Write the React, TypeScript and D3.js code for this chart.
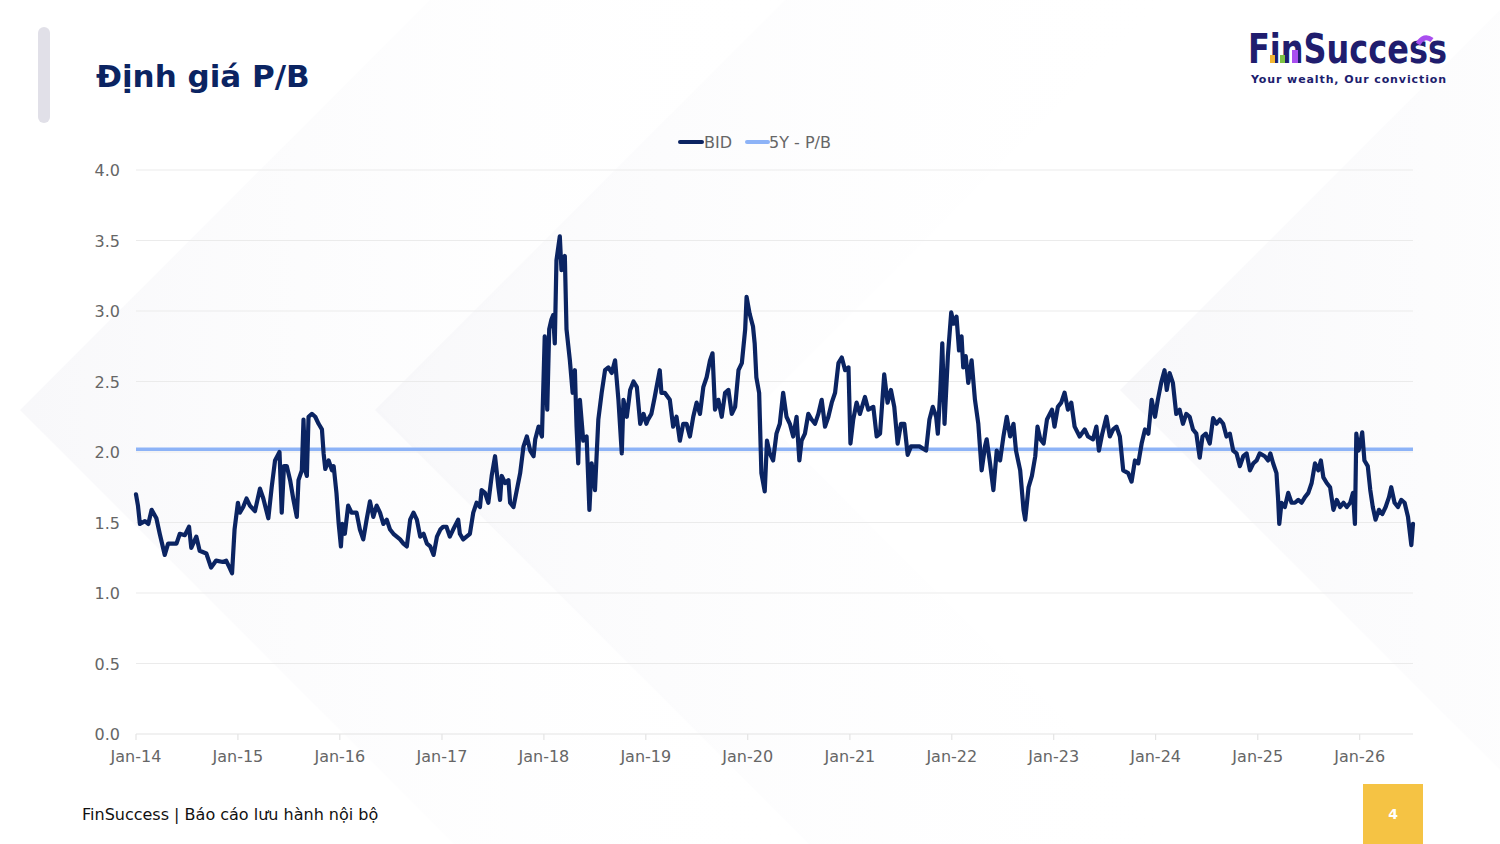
import * as d3 from "d3"

// BID P/B (date, value)
const bid2014: [string, number][] = [["2014-01-01",1.70],["2014-01-08",1.62],["2014-01-15",1.49],["2014-02-02",1.51],["2014-02-14",1.49],["2014-02-26",1.59],["2014-03-15",1.53],["2014-03-27",1.42],["2014-04-14",1.27],["2014-04-26",1.35],["2014-05-26",1.35],["2014-06-07",1.42],["2014-06-25",1.41],["2014-07-10",1.47],["2014-07-18",1.32],["2014-08-05",1.40],["2014-08-17",1.30],["2014-09-10",1.28],["2014-09-27",1.18],["2014-10-15",1.23],["2014-11-08",1.22],["2014-11-20",1.23],["2014-12-02",1.18],["2014-12-11",1.14],["2014-12-20",1.45]]
const bid2015: [string, number][] = [["2015-01-01",1.64],["2015-01-08",1.57],["2015-01-20",1.61],["2015-02-01",1.67],["2015-02-13",1.62],["2015-03-03",1.58],["2015-03-21",1.74],["2015-04-02",1.67],["2015-04-20",1.53],["2015-05-02",1.75],["2015-05-14",1.94],["2015-05-30",2.00],["2015-06-07",1.57],["2015-06-15",1.90],["2015-06-25",1.90],["2015-07-07",1.80],["2015-07-19",1.66],["2015-07-31",1.54],["2015-08-06",1.80],["2015-08-18",1.87],["2015-08-24",2.23],["2015-08-30",1.87],["2015-09-05",1.83],["2015-09-11",2.25],["2015-09-23",2.27],["2015-10-05",2.25],["2015-10-17",2.20],["2015-10-29",2.16],["2015-11-04",1.99],["2015-11-10",1.88],["2015-11-22",1.94],["2015-12-04",1.87],["2015-12-10",1.90],["2015-12-20",1.71],["2015-12-28",1.49]]
const bid2016: [string, number][] = [["2016-01-05",1.33],["2016-01-10",1.49],["2016-01-19",1.42],["2016-01-31",1.62],["2016-02-12",1.57],["2016-03-01",1.57],["2016-03-13",1.45],["2016-03-25",1.38],["2016-04-06",1.52],["2016-04-18",1.65],["2016-04-30",1.54],["2016-05-12",1.62],["2016-05-24",1.57],["2016-06-05",1.49],["2016-06-17",1.52],["2016-06-29",1.45],["2016-07-11",1.42],["2016-07-23",1.40],["2016-08-04",1.38],["2016-08-16",1.35],["2016-08-28",1.33],["2016-09-09",1.52],["2016-09-21",1.57],["2016-10-03",1.52],["2016-10-15",1.40],["2016-10-27",1.42],["2016-11-08",1.35],["2016-11-20",1.33],["2016-12-02",1.27],["2016-12-14",1.40],["2016-12-26",1.45]]
const bid2017: [string, number][] = [["2017-01-05",1.47],["2017-01-17",1.47],["2017-01-29",1.40],["2017-02-10",1.45],["2017-02-28",1.52],["2017-03-06",1.42],["2017-03-18",1.38],["2017-03-30",1.40],["2017-04-11",1.42],["2017-04-23",1.57],["2017-05-05",1.64],["2017-05-17",1.61],["2017-05-23",1.73],["2017-06-04",1.71],["2017-06-16",1.64],["2017-06-28",1.83],["2017-07-10",1.97],["2017-07-22",1.75],["2017-07-28",1.66],["2017-08-03",1.83],["2017-08-15",1.78],["2017-08-27",1.80],["2017-09-02",1.64],["2017-09-14",1.61],["2017-09-26",1.73],["2017-10-08",1.85],["2017-10-20",2.04],["2017-11-01",2.11],["2017-11-13",2.01],["2017-11-25",1.97],["2017-12-01",2.09],["2017-12-13",2.18],["2017-12-25",2.11]]
const bid2018: [string, number][] = [["2018-01-04",2.82],["2018-01-13",2.30],["2018-01-20",2.87],["2018-01-28",2.94],["2018-02-03",2.97],["2018-02-09",2.77],["2018-02-15",3.36],["2018-02-27",3.53],["2018-03-05",3.29],["2018-03-17",3.39],["2018-03-23",2.87],["2018-04-04",2.65],["2018-04-14",2.42],["2018-04-22",2.58],["2018-04-28",2.18],["2018-05-04",1.92],["2018-05-10",2.37],["2018-05-22",2.08],["2018-06-03",2.11],["2018-06-13",1.59],["2018-06-21",1.92],["2018-07-03",1.73],["2018-07-15",2.23],["2018-07-27",2.42],["2018-08-08",2.58],["2018-08-20",2.60],["2018-09-01",2.56],["2018-09-13",2.65],["2018-09-25",2.37],["2018-10-07",1.99],["2018-10-13",2.37],["2018-10-25",2.25],["2018-11-06",2.44],["2018-11-18",2.50],["2018-11-30",2.46],["2018-12-12",2.20],["2018-12-24",2.27]]
const bid2019: [string, number][] = [["2019-01-03",2.20],["2019-01-09",2.23],["2019-01-21",2.27],["2019-02-02",2.39],["2019-02-20",2.58],["2019-02-26",2.42],["2019-03-10",2.42],["2019-03-28",2.37],["2019-04-09",2.18],["2019-04-21",2.25],["2019-05-03",2.08],["2019-05-15",2.20],["2019-05-27",2.20],["2019-06-08",2.11],["2019-06-20",2.25],["2019-07-02",2.35],["2019-07-14",2.27],["2019-07-26",2.46],["2019-08-07",2.53],["2019-08-19",2.65],["2019-08-28",2.70],["2019-09-06",2.30],["2019-09-18",2.37],["2019-09-30",2.25],["2019-10-12",2.42],["2019-10-24",2.44],["2019-11-05",2.27],["2019-11-17",2.32],["2019-11-29",2.58],["2019-12-11",2.63],["2019-12-23",2.87],["2019-12-28",3.10]]
const bid2020: [string, number][] = [["2020-01-08",2.98],["2020-01-20",2.89],["2020-01-26",2.77],["2020-02-01",2.53],["2020-02-11",2.42],["2020-02-19",1.85],["2020-03-02",1.72],["2020-03-10",2.08],["2020-03-20",1.99],["2020-04-01",1.94],["2020-04-13",2.13],["2020-04-25",2.20],["2020-05-07",2.42],["2020-05-19",2.25],["2020-05-31",2.20],["2020-06-12",2.11],["2020-06-24",2.25],["2020-07-04",1.94],["2020-07-12",2.08],["2020-07-24",2.13],["2020-08-05",2.27],["2020-08-17",2.23],["2020-08-29",2.20],["2020-09-10",2.27],["2020-09-22",2.37],["2020-10-04",2.18],["2020-10-16",2.25],["2020-10-28",2.35],["2020-11-09",2.42],["2020-11-21",2.63],["2020-12-03",2.67],["2020-12-15",2.58],["2020-12-27",2.60]]
const bid2021: [string, number][] = [["2021-01-03",2.06],["2021-01-13",2.23],["2021-01-25",2.35],["2021-02-06",2.27],["2021-02-24",2.39],["2021-03-08",2.30],["2021-03-26",2.32],["2021-04-07",2.11],["2021-04-19",2.13],["2021-05-04",2.55],["2021-05-16",2.35],["2021-05-28",2.44],["2021-06-09",2.32],["2021-06-21",2.06],["2021-07-03",2.20],["2021-07-15",2.20],["2021-07-27",1.98],["2021-08-08",2.04],["2021-08-20",2.04],["2021-09-07",2.04],["2021-10-01",2.01],["2021-10-13",2.23],["2021-10-25",2.32],["2021-11-06",2.25],["2021-11-12",2.13],["2021-11-21",2.44],["2021-11-28",2.77],["2021-12-06",2.20],["2021-12-18",2.68],["2021-12-30",2.99]]
const bid2022: [string, number][] = [["2022-01-08",2.91],["2022-01-18",2.96],["2022-01-27",2.72],["2022-02-05",2.82],["2022-02-11",2.60],["2022-02-20",2.68],["2022-03-01",2.49],["2022-03-13",2.65],["2022-03-25",2.37],["2022-04-06",2.20],["2022-04-18",1.87],["2022-04-30",2.04],["2022-05-06",2.09],["2022-05-18",1.92],["2022-05-30",1.73],["2022-06-11",2.01],["2022-06-23",1.94],["2022-07-05",2.11],["2022-07-17",2.25],["2022-07-29",2.11],["2022-08-10",2.20],["2022-08-19",2.01],["2022-09-03",1.87],["2022-09-15",1.59],["2022-09-21",1.52],["2022-10-03",1.75],["2022-10-15",1.83],["2022-10-27",1.97],["2022-11-04",2.18],["2022-11-14",2.09],["2022-11-26",2.06],["2022-12-08",2.23],["2022-12-26",2.30]]
const bid2023: [string, number][] = [["2023-01-04",2.18],["2023-01-16",2.32],["2023-01-28",2.35],["2023-02-09",2.42],["2023-02-21",2.30],["2023-03-05",2.35],["2023-03-17",2.18],["2023-04-04",2.11],["2023-04-22",2.16],["2023-05-04",2.11],["2023-05-22",2.09],["2023-06-03",2.18],["2023-06-12",2.01],["2023-06-24",2.13],["2023-07-09",2.25],["2023-07-21",2.11],["2023-08-02",2.16],["2023-08-14",2.18],["2023-08-26",2.11],["2023-09-07",1.87],["2023-09-25",1.85],["2023-10-07",1.79],["2023-10-19",1.94],["2023-10-31",1.92],["2023-11-12",2.06],["2023-11-24",2.16],["2023-12-06",2.13],["2023-12-18",2.37],["2023-12-30",2.25]]
const bid2024: [string, number][] = [["2024-01-09",2.37],["2024-01-21",2.49],["2024-02-02",2.58],["2024-02-10",2.44],["2024-02-20",2.56],["2024-03-03",2.49],["2024-03-15",2.27],["2024-03-27",2.30],["2024-04-08",2.20],["2024-04-20",2.27],["2024-05-02",2.25],["2024-05-14",2.16],["2024-05-26",2.13],["2024-06-07",1.96],["2024-06-17",2.11],["2024-06-29",2.13],["2024-07-13",2.06],["2024-07-25",2.24],["2024-08-06",2.20],["2024-08-18",2.23],["2024-08-30",2.20],["2024-09-11",2.11],["2024-09-23",2.13],["2024-10-05",2.01],["2024-10-17",1.99],["2024-10-29",1.90],["2024-11-10",1.97],["2024-11-22",1.99],["2024-12-04",1.87],["2024-12-16",1.92],["2024-12-28",1.94]]
const bid2025: [string, number][] = [["2025-01-08",1.99],["2025-01-26",1.97],["2025-02-07",1.94],["2025-02-15",1.99],["2025-02-25",1.92],["2025-03-09",1.85],["2025-03-15",1.66],["2025-03-19",1.49],["2025-03-27",1.64],["2025-04-08",1.61],["2025-04-20",1.71],["2025-05-02",1.64],["2025-05-14",1.64],["2025-05-26",1.66],["2025-06-07",1.64],["2025-06-19",1.68],["2025-07-01",1.71],["2025-07-13",1.78],["2025-07-25",1.92],["2025-08-06",1.87],["2025-08-15",1.94],["2025-08-24",1.82],["2025-09-05",1.78],["2025-09-17",1.75],["2025-09-29",1.59],["2025-10-11",1.66],["2025-10-23",1.61],["2025-11-04",1.64],["2025-11-16",1.61],["2025-11-28",1.64],["2025-12-08",1.71],["2025-12-15",1.49],["2025-12-20",2.13],["2025-12-28",2.01]]
const bid2026: [string, number][] = [["2026-01-03",2.06],["2026-01-10",2.14],["2026-01-18",1.94],["2026-01-30",1.90],["2026-02-08",1.73],["2026-02-17",1.61],["2026-02-27",1.52],["2026-03-11",1.59],["2026-03-23",1.56],["2026-04-04",1.61],["2026-04-16",1.68],["2026-04-24",1.75],["2026-05-06",1.64],["2026-05-18",1.61],["2026-05-30",1.66],["2026-06-11",1.64],["2026-06-23",1.54],["2026-07-05",1.34],["2026-07-11",1.49]]

// 5-year average P/B
const pb5y = 2.02

const yTicks = [0, 0.5, 1, 1.5, 2, 2.5, 3, 3.5, 4]
const xTickYears = [2014, 2015, 2016, 2017, 2018, 2019, 2020, 2021, 2022, 2023, 2024, 2025, 2026]

const series = [bid2014, bid2015, bid2016, bid2017, bid2018, bid2019, bid2020, bid2021, bid2022, bid2023, bid2024, bid2025, bid2026]
  .flat()
  .map(([d, v]) => ({ date: d3.timeParse("%Y-%m-%d")(d) as Date, value: v }))

const FONT = "'DejaVu Sans', 'Noto Sans', sans-serif"
const NAVY = "#0b2462"
const LIGHT = "#8db3f7"

// faint chevron bands in the slide background
function chevron(tx: number, ty: number, t: number) {
  return [
    [tx + ty, 0], [tx, ty], [tx + 844 - ty, 844],
    [tx + 844 - ty + t, 844], [tx + t, ty], [tx + ty + t, 0],
  ].map((p) => p.join(",")).join(" ")
}

export default function App() {
  const margin = { top: 170, right: 87, bottom: 110, left: 136 }
  const width = 1500
  const height = 844

  const x = d3
    .scaleTime()
    .domain(d3.extent(series, (d) => d.date) as [Date, Date])
    .range([margin.left, width - margin.right])

  const y = d3
    .scaleLinear()
    .domain([0, 4])
    .range([height - margin.bottom, margin.top])

  const line = d3
    .line<{ date: Date; value: number }>()
    .x((d) => x(d.date))
    .y((d) => y(d.value))

  const fmt = d3.timeFormat("%b-%y")
  const x0 = margin.left
  const x1 = width - margin.right

  return (
    <div style={{ position: "absolute", left: 0, top: 0, width, height, background: "#fff" }}>
      <svg width={width} height={height} viewBox={`0 0 ${width} ${height}`} style={{ display: "block" }}>
        <defs>
          <linearGradient id="bg1" x1="0" y1="0" x2="1" y2="0">
            <stop offset="0" stopColor="#f2f2f6" />
            <stop offset="1" stopColor="#ffffff" stopOpacity="0" />
          </linearGradient>
        </defs>
        <rect width={width} height={height} fill="#fff" />
        <polygon points={chevron(20, 410, 360)} fill="url(#bg1)" opacity={0.55} />
        <polygon points={chevron(375, 410, 380)} fill="url(#bg1)" opacity={0.55} />
        <polygon points={chevron(1120, 390, 420)} fill="url(#bg1)" opacity={0.55} />

        {/* left accent bar */}
        <rect x={38} y={27} width={12} height={96} rx={6} fill="#e1e0e8" />

        {/* title */}
        <text x={96} y={87} fontFamily={FONT} fontWeight={700} fontSize={31} fill={NAVY}>
          Định giá P/B
        </text>

        {/* logo */}
        <g>
          <text x={1248} y={63} fontFamily={FONT} fontWeight={700} fontSize={40} fill="#201d6e" textLength={199} lengthAdjust="spacingAndGlyphs">
            FinSuccess
          </text>
          <rect x={1270} y={55} width={5} height={8} fill="#f2b632" />
          <rect x={1280} y={55} width={5} height={8} fill="#7dc243" />
          <rect x={1292} y={50} width={6} height={13} fill="#a94eef" />
          <path d="M1418,44 Q1424,34 1432,40" fill="none" stroke="#a94eef" strokeWidth={5} />
          <text x={1349} y={83} textAnchor="middle" fontFamily={FONT} fontWeight={700} fontSize={11} fill="#201d6e" letterSpacing={0.9}>
            Your wealth, Our conviction
          </text>
        </g>

        {/* legend */}
        <g fontFamily={FONT} fontSize={16} fill="#666">
          <line x1={680} x2={702} y1={142} y2={142} stroke={NAVY} strokeWidth={4} strokeLinecap="round" />
          <text x={704} y={148}>BID</text>
          <line x1={747} x2={768} y1={142} y2={142} stroke={LIGHT} strokeWidth={4} strokeLinecap="round" />
          <text x={769} y={148}>5Y - P/B</text>
        </g>

        {/* grid + y labels */}
        <g fontFamily={FONT} fontSize={16} fill="#666">
          {yTicks.map((t) => (
            <g key={t}>
              <line x1={x0} x2={x1} y1={y(t)} y2={y(t)} stroke={t === 0 ? "#e4e4e4" : "#ebebeb"} strokeWidth={1.2} />
              <text x={120} y={y(t) + 6} textAnchor="end">{t.toFixed(1)}</text>
            </g>
          ))}
        </g>

        {/* x axis ticks + labels */}
        <g fontFamily={FONT} fontSize={16} fill="#666">
          {xTickYears.map((yr) => {
            const d = new Date(yr, 0, 1)
            const px = x(d)
            return (
              <g key={yr}>
                <line x1={px} x2={px} y1={y(0)} y2={y(0) + 6} stroke="#e4e4e4" strokeWidth={1.2} />
                <text x={px} y={y(0) + 28} textAnchor="middle">{fmt(d)}</text>
              </g>
            )
          })}
        </g>

        {/* 5Y average */}
        <line x1={x0} x2={x1} y1={y(pb5y)} y2={y(pb5y)} stroke={LIGHT} strokeWidth={3.5} />

        {/* BID */}
        <path d={line(series) ?? ""} fill="none" stroke={NAVY} strokeWidth={4.2} strokeLinejoin="round" strokeLinecap="round" />

        {/* footer */}
        <text x={82} y={820} fontFamily={FONT} fontSize={16} fill="#111">
          FinSuccess | Báo cáo lưu hành nội bộ
        </text>
        <rect x={1363} y={784} width={60} height={60} fill="#f5c344" />
        <text x={1393} y={819} textAnchor="middle" fontFamily={FONT} fontWeight={700} fontSize={14} fill="#fff">4</text>
      </svg>
    </div>
  )
}
